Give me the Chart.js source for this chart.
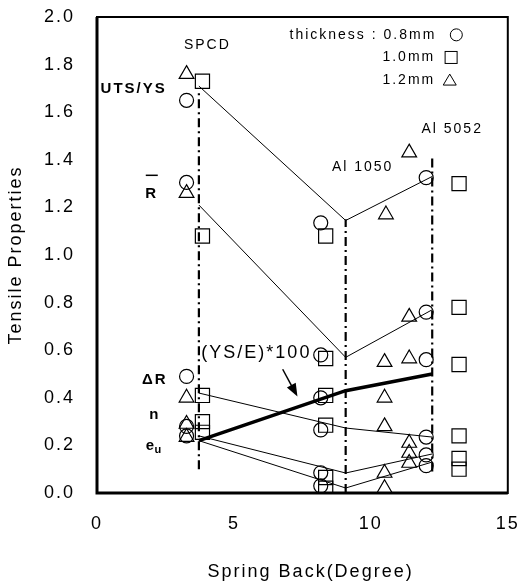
<!DOCTYPE html>
<html>
<head>
<meta charset="utf-8">
<script src="https://cdn.jsdelivr.net/npm/chart.js@4/dist/chart.umd.min.js"></script>
<style>
  html, body { margin: 0; padding: 0; background: #fff; }
  canvas { display: block; }
</style>
</head>
<body>
<canvas id="chart" width="519" height="582"></canvas>
<script>
// Measured points, [spring back (deg), tensile property value]
const thick08 = [ // circles, 0.8mm
  [3.27, 1.65], [3.27, 1.305], [3.27, 0.49], [3.27, 0.28], [3.27, 0.24],
  [8.17, 1.135], [8.17, 0.58], [8.17, 0.40], [8.17, 0.265], [8.17, 0.085], [8.17, 0.03],
  [12.02, 1.325], [12.02, 0.76], [12.02, 0.56], [12.02, 0.235], [12.02, 0.16], [12.02, 0.115]
];
const thick10 = [ // squares, 1.0mm
  [3.85, 1.73], [3.85, 1.08], [3.85, 0.41], [3.85, 0.30], [3.85, 0.255],
  [8.35, 1.08], [8.35, 0.565], [8.35, 0.41], [8.35, 0.285], [8.35, 0.065], [8.35, 0.02],
  [13.22, 1.30], [13.22, 0.78], [13.22, 0.54], [13.22, 0.24], [13.22, 0.145], [13.22, 0.10]
];
const thick12 = [ // triangles, 1.2mm
  [3.27, 1.76], [3.27, 1.26], [3.27, 0.40], [3.27, 0.29], [3.27, 0.235],
  [10.55, 1.17], [11.4, 1.43], [10.5, 0.55], [11.4, 0.565], [11.4, 0.74],
  [10.5, 0.40], [10.5, 0.28], [11.4, 0.21], [11.4, 0.168], [11.4, 0.126],
  [10.5, 0.084], [10.5, 0.02]
];

// material positions and the trend lines through them
const materials = ["SPCD", "Al 1050", "Al 5052"];
const materialX = [3.72, 9.08, 12.24];
const guideTop = [1.68, 1.15, 1.41];
const guideBottom = [0.10, 0.0, 0.09];
const utsLine = [1.71, 1.145, 1.33];
const rLine = [1.21, 0.57, 0.77];
const dRLine = [0.42, 0.273, 0.235];
const nLine = [0.24, 0.084, 0.164];
const euLine = [0.22, 0.021, 0.13];
const ysELine = [0.22, 0.43, 0.50];

const FONT = "'Liberation Sans', Arial, sans-serif";

function trend(values, width) {
  return {
    type: 'line',
    data: values.map((v, i) => ({ x: materialX[i], y: v })),
    borderColor: '#000',
    borderWidth: width,
    pointRadius: 0,
    showLine: true,
    fill: false
  };
}

function guide(i) {
  return {
    type: 'line',
    data: [{ x: materialX[i], y: guideBottom[i] }, { x: materialX[i], y: guideTop[i] }],
    borderColor: '#000',
    borderWidth: 2.2,
    borderDash: [9, 4, 2, 4],
    pointRadius: 0,
    showLine: true,
    fill: false
  };
}

function marks(points, style, radius) {
  return {
    type: 'scatter',
    data: points.map(p => ({ x: p[0], y: p[1] })),
    pointStyle: style,
    pointRadius: radius,
    pointBorderColor: '#000',
    pointBackgroundColor: 'rgba(0,0,0,0)',
    pointBorderWidth: 1.2,
    showLine: false
  };
}

// text placed in data coordinates
const notes = [
  { text: materials[0], x: 4.03, y: 1.88, font: '14px ' + FONT },
  { text: materials[1], x: 9.70, y: 1.37, font: '14px ' + FONT },
  { text: materials[2], x: 12.97, y: 1.53, font: '14px ' + FONT },
  { text: 'UTS/YS', x: 1.34, y: 1.70, font: 'bold 15px ' + FONT },
  { text: 'R', x: 2.0, y: 1.255, font: 'bold 15px ' + FONT },
  { text: 'ΔR', x: 2.11, y: 0.475, font: 'bold 15px ' + FONT },
  { text: 'n', x: 2.11, y: 0.33, font: 'bold 15px ' + FONT },
  { text: '(YS/E)*100', x: 3.81, y: 0.59, font: '18px ' + FONT, align: 'left' },
  { text: 'thickness : 0.8mm', x: 12.39, y: 1.925, font: '14px ' + FONT, align: 'right' },
  { text: '1.0mm', x: 12.35, y: 1.83, font: '14px ' + FONT, align: 'right' },
  { text: '1.2mm', x: 12.35, y: 1.735, font: '14px ' + FONT, align: 'right' },
  { text: 'Spring Back(Degree)', x: 7.8, y: -0.33, font: '18px ' + FONT }
];

const overlay = {
  id: 'overlay',
  beforeDraw(chart) {
    chart.ctx.letterSpacing = '2px';
  },
  afterDatasetsDraw(chart) {
    const { ctx, chartArea: a } = chart;
    const x = chart.scales.x, y = chart.scales.y;
    const px = v => x.getPixelForValue(v), py = v => y.getPixelForValue(v);
    ctx.save();
    ctx.strokeStyle = '#000';
    ctx.fillStyle = '#000';
    // frame: heavier on the axis sides
    ctx.lineWidth = 2;
    ctx.strokeRect(a.left, a.top, a.right - a.left, a.bottom - a.top);
    ctx.lineWidth = 3;
    ctx.beginPath();
    ctx.moveTo(a.left, a.top);
    ctx.lineTo(a.left, a.bottom);
    ctx.lineTo(a.right, a.bottom);
    ctx.stroke();

    ctx.letterSpacing = '2px';
    ctx.textBaseline = 'middle';
    notes.forEach(n => {
      ctx.font = n.font;
      ctx.textAlign = n.align || 'center';
      ctx.fillText(n.text, px(n.x), py(n.y));
    });

    // bar over R
    ctx.lineWidth = 1.5;
    ctx.beginPath();
    ctx.moveTo(px(2.0) - 6, py(1.255) - 19);
    ctx.lineTo(px(2.0) + 6, py(1.255) - 19);
    ctx.stroke();

    // e with subscript u
    ctx.textAlign = 'left';
    ctx.font = 'bold 15px ' + FONT;
    ctx.fillText('e', px(1.78), py(0.20));
    ctx.font = 'bold 11px ' + FONT;
    ctx.fillText('u', px(2.1), py(0.18));

    // arrow to the YS/E line
    const x0 = px(6.78), y0 = py(0.52), x1 = px(7.32), y1 = py(0.405);
    const ang = Math.atan2(y1 - y0, x1 - x0);
    ctx.lineWidth = 1.5;
    ctx.beginPath();
    ctx.moveTo(x0, y0);
    ctx.lineTo(x1 - 10 * Math.cos(ang), y1 - 10 * Math.sin(ang));
    ctx.stroke();
    ctx.beginPath();
    ctx.moveTo(x1, y1);
    ctx.lineTo(x1 - 13 * Math.cos(ang) + 5 * Math.sin(ang), y1 - 13 * Math.sin(ang) - 5 * Math.cos(ang));
    ctx.lineTo(x1 - 13 * Math.cos(ang) - 5 * Math.sin(ang), y1 - 13 * Math.sin(ang) + 5 * Math.cos(ang));
    ctx.closePath();
    ctx.fill();

    // legend symbols
    ctx.lineWidth = 1;
    ctx.beginPath();
    ctx.arc(px(13.12), py(1.925), 6, 0, Math.PI * 2);
    ctx.stroke();
    ctx.strokeRect(px(12.93) - 6, py(1.83) - 6, 12, 12);
    const tx = px(12.88), ty = py(1.735);
    ctx.beginPath();
    ctx.moveTo(tx, ty - 6);
    ctx.lineTo(tx + 6.5, ty + 5);
    ctx.lineTo(tx - 6.5, ty + 5);
    ctx.closePath();
    ctx.stroke();
    ctx.restore();
  }
};

const ctx = document.getElementById('chart').getContext('2d');
const chart = new Chart(ctx, {
  type: 'scatter',
  data: {
    datasets: [
      guide(0), guide(1), guide(2),
      trend(utsLine, 1), trend(rLine, 1), trend(dRLine, 1),
      trend(nLine, 1), trend(euLine, 1), trend(ysELine, 3.5),
      marks(thick08, 'circle', 7),
      marks(thick10, 'rect', 10),
      marks(thick12, 'triangle', 8.5)
    ]
  },
  options: {
    responsive: false,
    animation: false,
    devicePixelRatio: 1,
    layout: { padding: { top: 17, right: 9, left: 0, bottom: 0 } },
    plugins: { legend: { display: false }, tooltip: { enabled: false } },
    scales: {
      x: {
        type: 'linear', min: 0, max: 15,
        grid: { display: false, drawTicks: false },
        border: { display: false },
        ticks: { stepSize: 5, padding: 20, color: '#000', font: { family: FONT, size: 18 } },
        afterFit(s) { s.height = 89; s.paddingLeft = 0; s.paddingRight = 0; }
      },
      y: {
        type: 'linear', min: 0, max: 2,
        grid: { display: false, drawTicks: false },
        border: { display: false },
        ticks: { stepSize: 0.2, padding: 22, color: '#000', font: { family: FONT, size: 18 },
                 callback: v => v.toFixed(1) },
        title: { display: true, text: 'Tensile Properties', color: '#000',
                 font: { family: FONT, size: 18 }, padding: { top: 5, bottom: 0 } },
        afterFit(s) { s.width = 97; s.paddingTop = 0; s.paddingBottom = 0; }
      }
    }
  },
  plugins: [overlay]
});
</script>
</body>
</html>
